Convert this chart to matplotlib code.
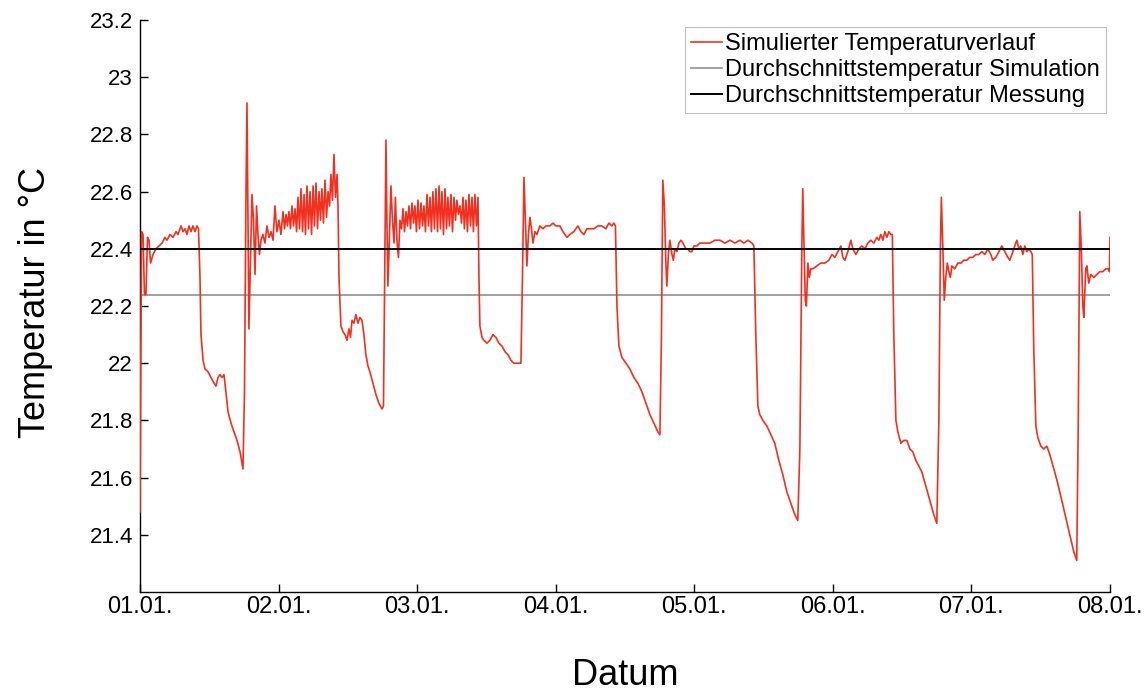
import matplotlib
matplotlib.use("Agg")
import matplotlib.pyplot as plt

plt.rcParams['font.family'] = ['Liberation Sans', 'DejaVu Sans']

# time in days since 01.01. 00:00
t_days = [
    0.000, 0.011, 0.022, 0.032, 0.043, 0.054, 0.065, 0.076, 0.094, 0.115,
    0.137, 0.159, 0.180, 0.195, 0.216, 0.238, 0.260, 0.274, 0.296, 0.310,
    0.325, 0.339, 0.354, 0.368, 0.382, 0.397, 0.411, 0.422, 0.433, 0.440,
    0.455, 0.469, 0.491, 0.512, 0.534, 0.548, 0.563, 0.577, 0.592, 0.606,
    0.620, 0.635, 0.657, 0.678, 0.700, 0.722, 0.743, 0.754, 0.765, 0.772,
    0.779, 0.786, 0.797, 0.808, 0.819, 0.830, 0.841, 0.851, 0.862, 0.873,
    0.887, 0.902, 0.916, 0.931, 0.945, 0.960, 0.974, 0.988, 1.003, 1.017,
    1.032,
    1.043, 1.054, 1.064, 1.075, 1.086, 1.097, 1.108, 1.119, 1.130, 1.140,
    1.151, 1.162, 1.173, 1.184, 1.194, 1.205, 1.216, 1.227, 1.238, 1.249,
    1.259, 1.270, 1.281, 1.292, 1.303, 1.313, 1.324, 1.335, 1.346, 1.357,
    1.368, 1.378, 1.389, 1.400, 1.411, 1.422,
    1.429, 1.436, 1.450, 1.465, 1.479, 1.494, 1.508, 1.519, 1.530, 1.544,
    1.558, 1.573, 1.587, 1.602, 1.616, 1.630, 1.645, 1.659, 1.681, 1.703,
    1.724, 1.746, 1.757, 1.768, 1.775, 1.782, 1.789, 1.800, 1.811, 1.822,
    1.833, 1.843, 1.854, 1.865, 1.876,
    1.887, 1.898, 1.909, 1.920, 1.930, 1.941, 1.952, 1.963, 1.974, 1.984,
    1.995, 2.006, 2.017, 2.028, 2.039, 2.049, 2.060, 2.071, 2.082, 2.093,
    2.103, 2.114, 2.125, 2.136, 2.147, 2.158, 2.168, 2.179, 2.190, 2.201,
    2.212, 2.222, 2.233, 2.244, 2.255, 2.266, 2.277, 2.287, 2.298, 2.309,
    2.320, 2.331, 2.341, 2.352, 2.363, 2.374, 2.385, 2.396, 2.406, 2.417,
    2.428, 2.439,
    2.446, 2.453, 2.468, 2.482, 2.504, 2.525, 2.547, 2.569, 2.590, 2.612,
    2.634, 2.655, 2.677, 2.698, 2.727, 2.749, 2.760, 2.771, 2.781, 2.792,
    2.803, 2.814, 2.825, 2.836, 2.850, 2.864, 2.886, 2.908, 2.929, 2.958,
    2.980, 3.001, 3.030, 3.052, 3.081, 3.102, 3.131, 3.160, 3.182, 3.203,
    3.225, 3.247, 3.276, 3.304, 3.333, 3.362, 3.384, 3.405, 3.420, 3.431,
    3.442, 3.456, 3.478, 3.507, 3.535, 3.564, 3.593, 3.622, 3.651, 3.680,
    3.709, 3.737, 3.752, 3.763, 3.773, 3.784, 3.795, 3.802, 3.813, 3.824,
    3.839, 3.849, 3.860, 3.875, 3.889, 3.904, 3.918, 3.939, 3.954, 3.968,
    3.983, 3.997, 4.019, 4.040, 4.076, 4.113, 4.149, 4.185, 4.221, 4.257,
    4.293, 4.329, 4.358, 4.387, 4.416, 4.430, 4.444, 4.459, 4.473, 4.495,
    4.524, 4.553, 4.581, 4.610, 4.639, 4.668, 4.697, 4.726, 4.747, 4.762,
    4.776, 4.783, 4.790, 4.801, 4.809, 4.820, 4.830, 4.841, 4.856, 4.885,
    4.913, 4.942, 4.971, 4.993, 5.014, 5.036, 5.058, 5.072, 5.087, 5.108,
    5.130, 5.144, 5.166, 5.188, 5.209, 5.231, 5.253, 5.274, 5.296, 5.318,
    5.332, 5.346, 5.361, 5.375, 5.390, 5.404, 5.418, 5.429, 5.440, 5.455,
    5.469, 5.491, 5.512, 5.534, 5.556, 5.577, 5.599, 5.621, 5.642, 5.671,
    5.700, 5.729, 5.750, 5.765, 5.776, 5.783, 5.794, 5.804, 5.815, 5.826,
    5.837, 5.848, 5.859, 5.880, 5.902, 5.924, 5.945, 5.967, 5.988, 6.010,
    6.032, 6.053, 6.075, 6.097, 6.118, 6.140, 6.154, 6.176, 6.198, 6.219,
    6.241, 6.263, 6.277, 6.299, 6.320, 6.328, 6.342, 6.356, 6.371, 6.385,
    6.400, 6.414, 6.429, 6.439, 6.450, 6.465, 6.479, 6.501, 6.522, 6.544,
    6.566, 6.595, 6.623, 6.652, 6.681, 6.710, 6.739, 6.760, 6.771, 6.782,
    6.793, 6.804, 6.811, 6.825, 6.833, 6.847, 6.861, 6.883, 6.905, 6.926,
    6.948, 6.970, 6.991, 6.996, 7.000,
]

temp_sim = [
    21.48, 22.46, 22.45, 22.24, 22.24, 22.44, 22.43, 22.35, 22.38, 22.40,
    22.41, 22.42, 22.44, 22.43, 22.45, 22.44, 22.46, 22.45, 22.48, 22.46,
    22.47, 22.45, 22.48, 22.46, 22.48, 22.46, 22.48, 22.47, 22.30, 22.10,
    22.01, 21.98, 21.97, 21.95, 21.93, 21.92, 21.95, 21.96, 21.95, 21.96,
    21.90, 21.83, 21.79, 21.76, 21.73, 21.69, 21.63, 21.90, 22.60, 22.91,
    22.50, 22.12, 22.35, 22.59, 22.50, 22.31, 22.55, 22.45, 22.38, 22.43,
    22.45, 22.42, 22.48, 22.44, 22.46, 22.43, 22.55, 22.46, 22.50, 22.45,
    22.53,
    22.47, 22.52, 22.48, 22.53, 22.47, 22.55, 22.48, 22.54, 22.46, 22.58,
    22.47, 22.61, 22.46, 22.59, 22.45, 22.62, 22.47, 22.60, 22.45, 22.62,
    22.48, 22.63, 22.47, 22.60, 22.50, 22.61, 22.49, 22.64, 22.51, 22.60,
    22.55, 22.66, 22.57, 22.73, 22.58, 22.66,
    22.55, 22.30, 22.13, 22.11, 22.10, 22.08, 22.12, 22.09, 22.15, 22.14,
    22.17, 22.14, 22.16, 22.15, 22.10, 22.03, 21.99, 21.97, 21.93, 21.89,
    21.86, 21.84, 21.85, 22.40, 22.78, 22.50, 22.27, 22.45, 22.62, 22.50,
    22.42, 22.58, 22.43, 22.37, 22.50,
    22.47, 22.54, 22.46, 22.53, 22.48, 22.55, 22.47, 22.56, 22.49, 22.55,
    22.46, 22.57, 22.47, 22.56, 22.48, 22.55, 22.46, 22.59, 22.48, 22.58,
    22.46, 22.60, 22.47, 22.61, 22.46, 22.62, 22.47, 22.60, 22.45, 22.61,
    22.47, 22.58, 22.48, 22.59, 22.46, 22.58, 22.50, 22.57, 22.52, 22.55,
    22.49, 22.58, 22.47, 22.57, 22.46, 22.59, 22.48, 22.58, 22.46, 22.59,
    22.48, 22.58,
    22.30, 22.13, 22.09, 22.08, 22.07, 22.08, 22.10, 22.09, 22.07, 22.06,
    22.04, 22.03, 22.01, 22.00, 22.00, 22.00, 22.30, 22.65, 22.50, 22.34,
    22.45, 22.51, 22.47, 22.42, 22.46, 22.45, 22.48, 22.47, 22.48, 22.48,
    22.49, 22.48, 22.48, 22.46, 22.44, 22.45, 22.46, 22.48, 22.46, 22.45,
    22.47, 22.47, 22.47, 22.48, 22.48, 22.47, 22.49, 22.48, 22.49, 22.48,
    22.20, 22.06, 22.02, 22.00, 21.98, 21.95, 21.93, 21.90, 21.86, 21.82,
    21.79, 21.76, 21.75, 22.10, 22.64, 22.55, 22.35, 22.27, 22.38, 22.43,
    22.38, 22.36, 22.40, 22.39, 22.42, 22.43, 22.42, 22.40, 22.40, 22.39,
    22.39, 22.41, 22.41, 22.42, 22.42, 22.42, 22.43, 22.43, 22.42, 22.43,
    22.42, 22.43, 22.42, 22.43, 22.42, 22.41, 22.10, 21.85, 21.82, 21.80,
    21.78, 21.75, 21.72, 21.66, 21.61, 21.55, 21.51, 21.47, 21.45, 21.70,
    22.40, 22.61, 22.45, 22.22, 22.20, 22.35, 22.30, 22.33, 22.33, 22.34,
    22.35, 22.35, 22.36, 22.38, 22.37, 22.39, 22.41, 22.37, 22.36, 22.39,
    22.43, 22.40, 22.38, 22.40, 22.41, 22.40, 22.42, 22.43, 22.42, 22.44,
    22.43, 22.45, 22.43, 22.46, 22.44, 22.46, 22.45, 22.45, 22.10, 21.80,
    21.76, 21.72, 21.73, 21.73, 21.70, 21.69, 21.66, 21.64, 21.62, 21.57,
    21.52, 21.47, 21.44, 21.80, 22.40, 22.58, 22.40, 22.22, 22.30, 22.35,
    22.32, 22.30, 22.34, 22.33, 22.35, 22.35, 22.36, 22.36, 22.37, 22.37,
    22.38, 22.38, 22.39, 22.38, 22.40, 22.38, 22.36, 22.37, 22.39, 22.41,
    22.39, 22.37, 22.36, 22.39, 22.42, 22.43, 22.40, 22.41, 22.38, 22.41,
    22.39, 22.40, 22.39, 22.38, 22.05, 21.78, 21.74, 21.71, 21.70, 21.71,
    21.68, 21.63, 21.58, 21.52, 21.46, 21.40, 21.34, 21.31, 21.80, 22.53,
    22.40, 22.20, 22.16, 22.33, 22.34, 22.28, 22.31, 22.30, 22.31, 22.32,
    22.32, 22.33, 22.33, 22.32, 22.44,
]

avg_sim = 22.24
avg_meas = 22.40

x_ticks = [0, 1, 2, 3, 4, 5, 6, 7]
x_labels = ['01.01.', '02.01.', '03.01.', '04.01.', '05.01.', '06.01.', '07.01.', '08.01.']
y_ticks = [21.4, 21.6, 21.8, 22.0, 22.2, 22.4, 22.6, 22.8, 23.0, 23.2]
y_labels = ['21.4', '21.6', '21.8', '22', '22.2', '22.4', '22.6', '22.8', '23', '23.2']

W, H = 1147, 693
fig = plt.figure(figsize=(W / 100, H / 100), dpi=100)
ax = fig.add_axes([140 / W, 1 - 592 / H, 970 / W, 572 / H])

ax.plot(t_days, temp_sim, color='#f2301f', lw=1.2, label='Simulierter Temperaturverlauf', zorder=3)
ax.plot([0, 7], [avg_sim, avg_sim], color='#9a9a9a', lw=1.3, label='Durchschnittstemperatur Simulation', zorder=2)
ax.plot([0, 7], [avg_meas, avg_meas], color='#000000', lw=1.4, label='Durchschnittstemperatur Messung', zorder=4)

ax.set_xlim(0, 7)
ax.set_ylim(21.2, 23.2)
ax.set_xticks(x_ticks)
ax.set_xticklabels(x_labels)
ax.set_yticks(y_ticks)
ax.set_yticklabels(y_labels)

for s in ['top', 'right']:
    ax.spines[s].set_visible(False)
for s in ['left', 'bottom']:
    ax.spines[s].set_linewidth(1.0)
ax.tick_params(direction='in', length=6, width=1.0)
ax.tick_params(axis='x', labelsize=17, pad=3)
ax.tick_params(axis='y', labelsize=16, pad=5)

ax.set_xlabel('Datum', fontsize=26)
ax.xaxis.set_label_coords(0.5, -0.115)
ax.set_ylabel('Temperatur in °C', fontsize=26)
ax.yaxis.set_label_coords(-0.09, 0.507)

leg = ax.legend(loc='upper right', bbox_to_anchor=(1106 / W, 1 - 27 / H),
                bbox_transform=fig.transFigure, fontsize=17, frameon=True,
                fancybox=False, edgecolor='#b0b0b0', handlelength=1.3,
                handletextpad=0.15, labelspacing=0.17, borderpad=0.25,
                borderaxespad=0)
leg.get_frame().set_linewidth(0.8)

fig.savefig('out.png', dpi=100)
